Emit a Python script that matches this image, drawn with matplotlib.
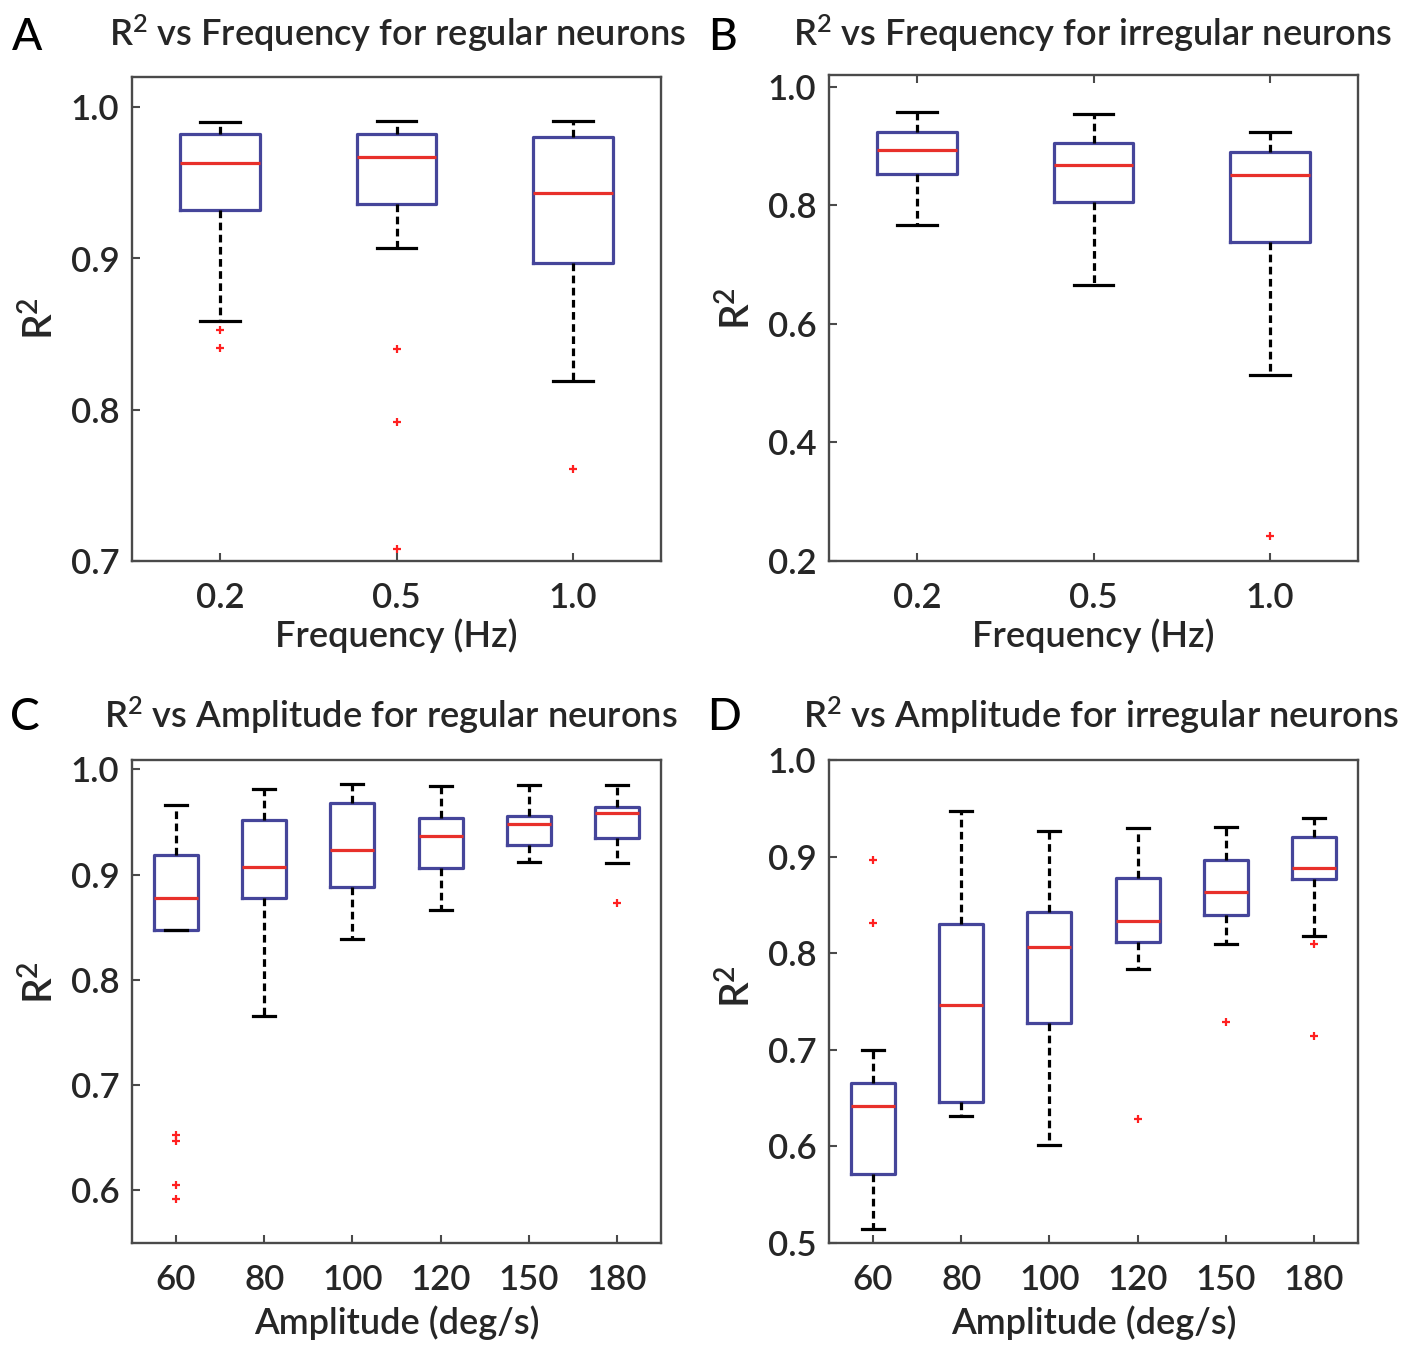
import matplotlib
matplotlib.use('Agg')
import matplotlib.pyplot as plt
from matplotlib.ticker import FormatStrFormatter

plt.rcParams['font.family'] = ['Lato', 'DejaVu Sans']
plt.rcParams['font.weight'] = 'semibold'
plt.rcParams['axes.labelweight'] = 'semibold'
plt.rcParams['mathtext.fontset'] = 'custom'
plt.rcParams['mathtext.rm'] = 'Lato:weight=semibold'
plt.rcParams['mathtext.it'] = 'Lato:italic:weight=semibold'
plt.rcParams['mathtext.bf'] = 'Lato:bold'

# --- data ---
freq_labels = ['0.2', '0.5', '1.0']
amp_labels = ['60', '80', '100', '120', '150', '180']

# A: regular neurons vs frequency
a_lo = [0.859, 0.907, 0.819]
a_q1 = [0.932, 0.936, 0.897]
a_med = [0.963, 0.967, 0.943]
a_q3 = [0.982, 0.982, 0.980]
a_hi = [0.990, 0.991, 0.991]
a_fl = [[0.853, 0.841], [0.840, 0.792, 0.708], [0.761]]

# B: irregular neurons vs frequency
b_lo = [0.767, 0.665, 0.514]
b_q1 = [0.853, 0.806, 0.738]
b_med = [0.894, 0.868, 0.852]
b_q3 = [0.924, 0.906, 0.890]
b_hi = [0.958, 0.954, 0.924]
b_fl = [[], [], [0.242]]

# C: regular neurons vs amplitude
c_lo = [0.847, 0.766, 0.839, 0.866, 0.912, 0.911]
c_q1 = [0.847, 0.878, 0.888, 0.906, 0.928, 0.935]
c_med = [0.878, 0.907, 0.923, 0.937, 0.948, 0.959]
c_q3 = [0.919, 0.952, 0.968, 0.954, 0.956, 0.964]
c_hi = [0.966, 0.981, 0.986, 0.984, 0.985, 0.985]
c_fl = [[0.653, 0.647, 0.605, 0.592], [], [], [], [], [0.873]]

# D: irregular neurons vs amplitude
d_lo = [0.515, 0.631, 0.601, 0.784, 0.810, 0.818]
d_q1 = [0.571, 0.646, 0.728, 0.812, 0.840, 0.877]
d_med = [0.642, 0.746, 0.806, 0.833, 0.863, 0.888]
d_q3 = [0.666, 0.830, 0.843, 0.878, 0.896, 0.920]
d_hi = [0.700, 0.947, 0.926, 0.930, 0.931, 0.940]
d_fl = [[0.896, 0.831], [], [], [0.628], [0.729], [0.810, 0.714]]

txt = '#262626'
frame = '#4a4a4a'
boxc = '#45459a'
medc = '#e8302a'

W, H = 1419, 1346
fig = plt.figure(figsize=(W / 100, H / 100), dpi=100)


def px_axes(l, t, r, b):
    return fig.add_axes([l / W, 1 - b / H, (r - l) / W, (b - t) / H])


def draw(ax, labels, lo, q1, med, q3, hi, fl, width, ylim, yticks, xlabel,
         top_ticks=False, xlabelpad=3):
    stats = []
    for i in range(len(labels)):
        stats.append(dict(whislo=lo[i], q1=q1[i], med=med[i], q3=q3[i],
                          whishi=hi[i], fliers=fl[i], label=labels[i]))
    ax.bxp(stats, positions=range(1, len(labels) + 1), widths=width,
           capwidths=width * 0.5,
           boxprops=dict(color=boxc, linewidth=2.3),
           medianprops=dict(color=medc, linewidth=2.3),
           whiskerprops=dict(color='black', linewidth=2.3, linestyle=(0, (2.4, 1.4))),
           capprops=dict(color='black', linewidth=2.3),
           flierprops=dict(marker='+', markersize=5.5, markeredgewidth=1.6,
                           markeredgecolor='#ff2020'))
    ax.set_xlim(0.5, len(labels) + 0.5)
    ax.set_ylim(*ylim)
    ax.set_yticks(yticks)
    ax.yaxis.set_major_formatter(FormatStrFormatter('%.1f'))
    for s in ax.spines.values():
        s.set_color(frame)
        s.set_linewidth(1.7)
    ax.tick_params(direction='in', length=6, width=1.5, color=frame,
                   labelsize=25, labelcolor=txt, top=top_ticks)
    ax.tick_params(axis='x', pad=15)
    ax.tick_params(axis='y', pad=9)
    ax.set_xlabel(xlabel, fontsize=26, color=txt, labelpad=xlabelpad)
    ax.set_ylabel(r'R$^\mathregular{2}$', fontsize=29, color=txt)


axA = px_axes(132, 77, 661, 561)
draw(axA, freq_labels, a_lo, a_q1, a_med, a_q3, a_hi, a_fl, 0.45,
     (0.7, 1.02), [0.7, 0.8, 0.9, 1.0], 'Frequency (Hz)')
axA.yaxis.set_label_coords(-0.135, 0.50)

axB = px_axes(829, 75, 1358, 561)
draw(axB, freq_labels, b_lo, b_q1, b_med, b_q3, b_hi, b_fl, 0.45,
     (0.2, 1.02), [0.2, 0.4, 0.6, 0.8, 1.0], 'Frequency (Hz)', top_ticks=True)
axB.yaxis.set_label_coords(-0.135, 0.52)

axC = px_axes(132, 760, 661, 1243)
draw(axC, amp_labels, c_lo, c_q1, c_med, c_q3, c_hi, c_fl, 0.5,
     (0.55, 1.009), [0.6, 0.7, 0.8, 0.9, 1.0], 'Amplitude (deg/s)', xlabelpad=7)
axC.yaxis.set_label_coords(-0.135, 0.54)

axD = px_axes(829, 760, 1358, 1243)
draw(axD, amp_labels, d_lo, d_q1, d_med, d_q3, d_hi, d_fl, 0.5,
     (0.5, 1.0), [0.5, 0.6, 0.7, 0.8, 0.9, 1.0], 'Amplitude (deg/s)', xlabelpad=7)
axD.yaxis.set_label_coords(-0.135, 0.53)

titles = [
    (397, 33, r'R$^\mathregular{2}$ vs Frequency for regular neurons'),
    (1093, 33, r'R$^\mathregular{2}$ vs Frequency for irregular neurons'),
    (391, 715, r'R$^\mathregular{2}$ vs Amplitude for regular neurons'),
    (1101, 715, r'R$^\mathregular{2}$ vs Amplitude for irregular neurons'),
]
for x, y, t in titles:
    fig.text(x / W, 1 - y / H, t, ha='center', va='center', fontsize=26, color=txt)

letters = [(27, 37, 'A'), (722, 37, 'B'), (25, 717, 'C'), (724, 717, 'D')]
for x, y, t in letters:
    fig.text(x / W, 1 - y / H, t, ha='center', va='center', fontsize=32,
             color='black', fontweight='medium')

fig.savefig('out.png', dpi=100, facecolor='white')
